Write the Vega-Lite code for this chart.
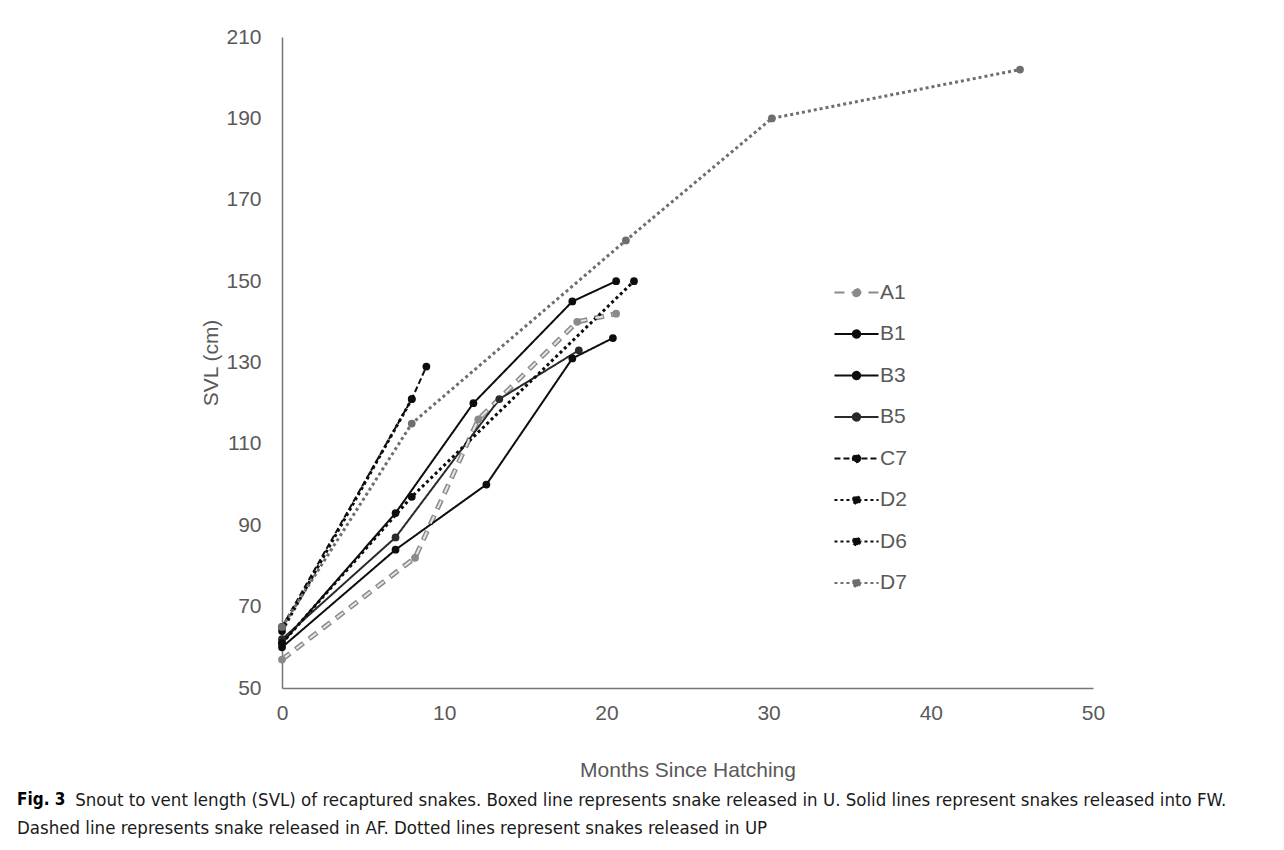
{
  "$schema": "https://vega.github.io/schema/vega-lite/v6.json",
  "width": 811,
  "height": 651,
  "autosize": {"type": "none"},
  "padding": {"left": 282, "top": 37, "right": 191, "bottom": 162},
  "background": "white",
  "config": {
    "view": {"stroke": null},
    "font": "Liberation Sans",
    "axis": {
      "grid": false,
      "ticks": false,
      "domainColor": "#767676",
      "domainWidth": 1.5,
      "labelFont": "Liberation Sans",
      "labelFontSize": 21,
      "labelColor": "#595959",
      "labelFlush": false,
      "labelOverlap": false,
      "titleFont": "Liberation Sans",
      "titleFontSize": 21,
      "titleFontWeight": "normal",
      "titleColor": "#595959"
    },
    "legend": {"padding": 0}
  },
  "title": {
    "text": "Fig. 3",
    "subtitle": [
      "\u200b\u00a0\u00a0\u00a0\u00a0\u00a0\u00a0\u00a0\u00a0\u00a0\u00a0\u00a0Snout to vent length (SVL) of recaptured snakes. Boxed line represents snake released in U. Solid lines represent snakes released into FW.",
      "Dashed line represents snake released in AF. Dotted lines represent snakes released in UP"
    ],
    "orient": "bottom",
    "anchor": "start",
    "frame": "group",
    "dx": -265,
    "offset": 12,
    "font": "DejaVu Sans Condensed, Liberation Sans, sans-serif",
    "fontSize": 17,
    "fontWeight": "bold",
    "color": "#000000",
    "subtitleFont": "DejaVu Sans Condensed, Liberation Sans, sans-serif",
    "subtitleFontSize": 18.5,
    "subtitleColor": "#1a1a1a",
    "subtitlePadding": -18,
    "subtitleLineHeight": 28
  },
  "data": {
    "values": [
      {"snake": "A1", "month": 0, "svl": 57},
      {"snake": "A1", "month": 8.2, "svl": 82},
      {"snake": "A1", "month": 12.1, "svl": 116},
      {"snake": "A1", "month": 18.2, "svl": 140},
      {"snake": "A1", "month": 20.6, "svl": 142},
      {"snake": "B1", "month": 0, "svl": 61},
      {"snake": "B1", "month": 7, "svl": 93},
      {"snake": "B1", "month": 11.8, "svl": 120},
      {"snake": "B1", "month": 17.9, "svl": 145},
      {"snake": "B1", "month": 20.6, "svl": 150},
      {"snake": "B3", "month": 0, "svl": 60},
      {"snake": "B3", "month": 7, "svl": 84},
      {"snake": "B3", "month": 12.6, "svl": 100},
      {"snake": "B3", "month": 17.9, "svl": 131},
      {"snake": "B3", "month": 20.4, "svl": 136},
      {"snake": "B5", "month": 0, "svl": 62},
      {"snake": "B5", "month": 7, "svl": 87},
      {"snake": "B5", "month": 13.4, "svl": 121},
      {"snake": "B5", "month": 18.3, "svl": 133},
      {"snake": "C7", "month": 0, "svl": 65},
      {"snake": "C7", "month": 8, "svl": 121},
      {"snake": "C7", "month": 8.9, "svl": 129},
      {"snake": "D2", "month": 0, "svl": 61},
      {"snake": "D2", "month": 8, "svl": 97},
      {"snake": "D2", "month": 21.7, "svl": 150},
      {"snake": "D6", "month": 0, "svl": 64},
      {"snake": "D6", "month": 8, "svl": 121},
      {"snake": "D7", "month": 0, "svl": 65},
      {"snake": "D7", "month": 8, "svl": 115},
      {"snake": "D7", "month": 21.2, "svl": 160},
      {"snake": "D7", "month": 30.2, "svl": 190},
      {"snake": "D7", "month": 45.5, "svl": 202}
    ]
  },
  "layer": [
    {
      "mark": {"type": "line", "strokeCap": "butt", "strokeJoin": "round"},
      "encoding": {
        "x": {
          "field": "month",
          "type": "quantitative",
          "scale": {"domain": [0, 50], "nice": false},
          "axis": {"values": [0, 10, 20, 30, 40, 50], "title": "Months Since Hatching", "labelPadding": 14, "titlePadding": 36}
        },
        "y": {
          "field": "svl",
          "type": "quantitative",
          "scale": {"domain": [50, 210], "nice": false, "zero": false},
          "axis": {"values": [50, 70, 90, 110, 130, 150, 170, 190, 210], "title": "SVL (cm)", "labelPadding": 21, "titlePadding": 4}
        },
        "color": {
          "field": "snake",
          "type": "nominal",
          "scale": {
            "domain": ["A1", "B1", "B3", "B5", "C7", "D2", "D6", "D7"],
            "range": ["#8a8a8a", "#0d0d0d", "#0d0d0d", "#2a2a2a", "#0d0d0d", "#0d0d0d", "#0d0d0d", "#6e6e6e"]
          },
          "legend": {
            "title": null,
            "orient": "none",
            "legendX": 555,
            "legendY": 236,
            "symbolType": "M-1.2,0L1.2,0M0.2,0A0.2,0.2,0,1,1,-0.2,0A0.2,0.2,0,1,1,0.2,0Z",
            "symbolSize": 1350,
            "symbolStrokeWidth": 2,
            "symbolOpacity": 1,
            "labelFontSize": 21,
            "labelColor": "#595959",
            "labelFont": "Liberation Sans",
            "rowPadding": 11.5,
            "labelOffset": 4,
            "encode": {"symbols": {"update": {"fill": {"scale": "color", "field": "value"}, "strokeWidth": {"value": 2}}}}
          }
        },
        "strokeDash": {
          "field": "snake",
          "type": "nominal",
          "scale": {
            "domain": ["A1", "B1", "B3", "B5", "C7", "D2", "D6", "D7"],
            "range": [[10, 7], [1, 0], [1, 0], [1, 0], [6, 3], [3, 3], [3, 3], [3, 3]]
          },
          "legend": {
            "title": null,
            "orient": "none",
            "legendX": 555,
            "legendY": 236
          }
        },
        "strokeWidth": {
          "condition": [
            {"test": "datum.snake === 'A1'", "value": 5},
            {"test": "datum.snake === 'D2' || datum.snake === 'D6' || datum.snake === 'D7'", "value": 3}
          ],
          "value": 2
        }
      }
    },
    {
      "transform": [{"filter": "datum.snake === 'A1'"}],
      "mark": {"type": "line", "color": "#e6e6e6", "strokeWidth": 2, "strokeDash": [8, 9], "strokeDashOffset": -1, "strokeCap": "butt"},
      "encoding": {
        "x": {"field": "month", "type": "quantitative"},
        "y": {"field": "svl", "type": "quantitative"}
      }
    },
    {
      "mark": {"type": "point", "filled": true, "size": 60, "opacity": 1},
      "encoding": {
        "x": {"field": "month", "type": "quantitative"},
        "y": {"field": "svl", "type": "quantitative"},
        "color": {"field": "snake", "type": "nominal"}
      }
    }
  ]
}
